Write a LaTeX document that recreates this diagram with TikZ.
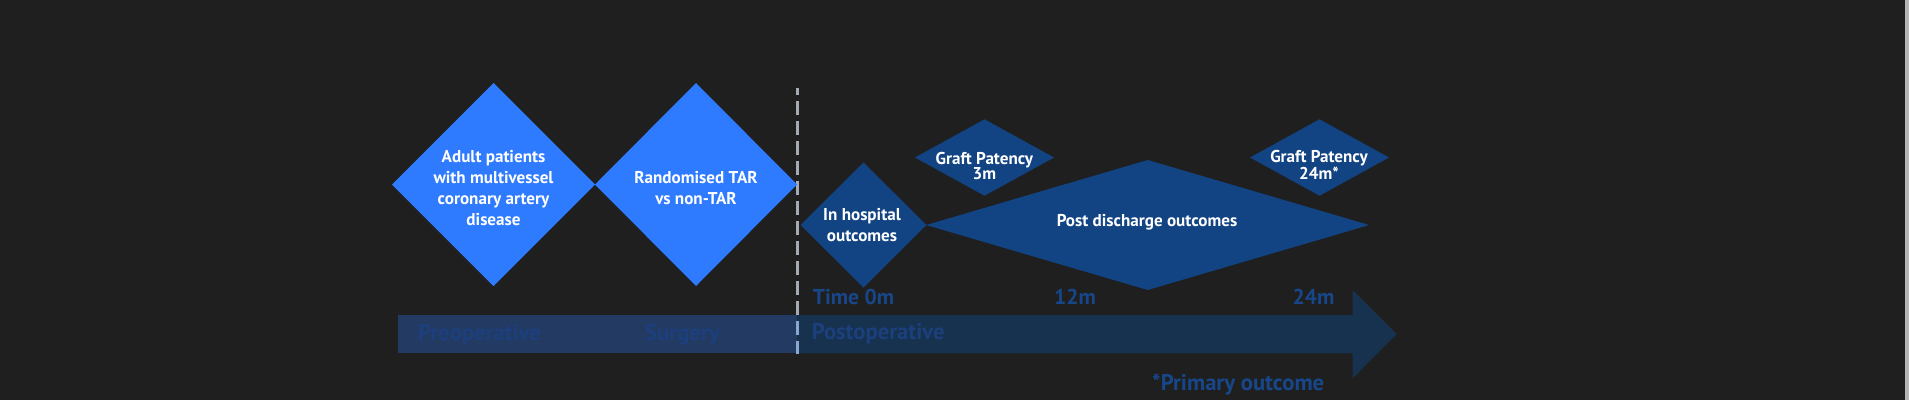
\documentclass[tikz,border=0pt]{standalone}
\usepackage{fontspec}
\setmainfont{PT Sans}
\usetikzlibrary{shapes.geometric}
\definecolor{bg}{HTML}{1F1F1F}
\definecolor{lightdia}{HTML}{2F7BFF}
\definecolor{darkdia}{HTML}{124383}
\definecolor{barleft}{HTML}{233A63}
\definecolor{barright}{HTML}{16324F}
\definecolor{bartext}{HTML}{1C3F7D}
\definecolor{timetext}{HTML}{17478A}
\definecolor{dashgrey}{HTML}{A3ABB4}
\definecolor{dashblue}{HTML}{8AA6D2}
\definecolor{edgestrip}{HTML}{B4B4B4}
\begin{document}
\begin{tikzpicture}[x=1pt,y=-1pt,
  dia/.style={diamond, draw=none, inner sep=0pt, outer sep=0pt},
  maintext/.style={text=white, font=\bfseries\fontsize{17.1}{20.7}\selectfont, align=center, inner sep=0pt},
  smalltext/.style={text=white, font=\bfseries\fontsize{17.1}{15.5}\selectfont, align=center, inner sep=0pt},
  timelabel/.style={text=timetext, font=\bfseries\fontsize{21.5}{25}\selectfont, inner sep=0pt},
  phaselabel/.style={text=bartext, font=\bfseries\fontsize{22.6}{25}\selectfont, inner sep=0pt},
  dashline/.style={line width=3.5pt, dash pattern=on 14pt off 6pt, dash phase=7pt}
]
\fill[bg] (0,0) rectangle (1909,400);
\useasboundingbox (0,0) rectangle (1909,400);
\fill[edgestrip] (1905,0) rectangle (1909,400);

% timeline bar
\fill[barleft] (398,315) rectangle (797.3,353.3);
\fill[barright] (797.3,315) -- (1352.7,315) -- (1352.7,290) -- (1396.7,334.2)
  -- (1352.7,378.3) -- (1352.7,353.3) -- (797.3,353.3) -- cycle;

% dashed divider
\coordinate (dtop) at (797.3,88.3);
\coordinate (dbot) at (797.3,354);
\draw[dashgrey, dashline] (dtop) -- (dbot);
\begin{scope}
  \clip (390,315) rectangle (1400,353.3);
  \draw[dashblue, dashline] (dtop) -- (dbot);
\end{scope}

% diamonds
\node[dia, fill=lightdia, minimum width=203pt, minimum height=203pt] (d1) at (493.5,184.5) {};
\node[dia, fill=lightdia, minimum width=202pt, minimum height=203pt] (d2) at (696,184.5) {};
\node[dia, fill=darkdia, minimum width=126pt, minimum height=125pt] (d3) at (863.5,225) {};
\node[dia, fill=darkdia, minimum width=443pt, minimum height=130pt] (d4) at (1147.7,225) {};
\node[dia, fill=darkdia, minimum width=139pt, minimum height=76.5pt] (d5) at (984.5,157.5) {};
\node[dia, fill=darkdia, minimum width=139pt, minimum height=76.5pt] (d6) at (1319.5,157.5) {};

% diamond texts
\node[maintext] (t1) at (493.5,188) {Adult patients\\with multivessel\\coronary artery\\disease};
\node[maintext] (t2) at (696,188) {Randomised TAR\\vs non-TAR};
\node[maintext] (t3) at (862,225) {In hospital\\outcomes};
\node[maintext] (t4) at (1147,222.3) {Post discharge outcomes};
\node[smalltext] (t5) at (984.4,165.8) {Graft Patency\\3m};
\node[smalltext] (t6) at (1319,164.8) {Graft Patency\\24m*};

% time labels
\node[timelabel, anchor=base west] (l0) at (812.7,304) {Time 0m};
\node[timelabel, anchor=base] (l12) at (1075,304) {12m};
\node[timelabel, anchor=base] (l24) at (1313.5,304) {24m};

% phase labels
\node[phaselabel, anchor=base west] (p1) at (418,340) {Preoperative};
\node[phaselabel, anchor=base west] (p2) at (645,340) {Surgery};
\node[phaselabel, anchor=base west] (p3) at (811.7,339) {Postoperative};

\node[phaselabel, text=timetext, anchor=base west] (po) at (1152,390) {*Primary outcome};
\end{tikzpicture}
\end{document}
